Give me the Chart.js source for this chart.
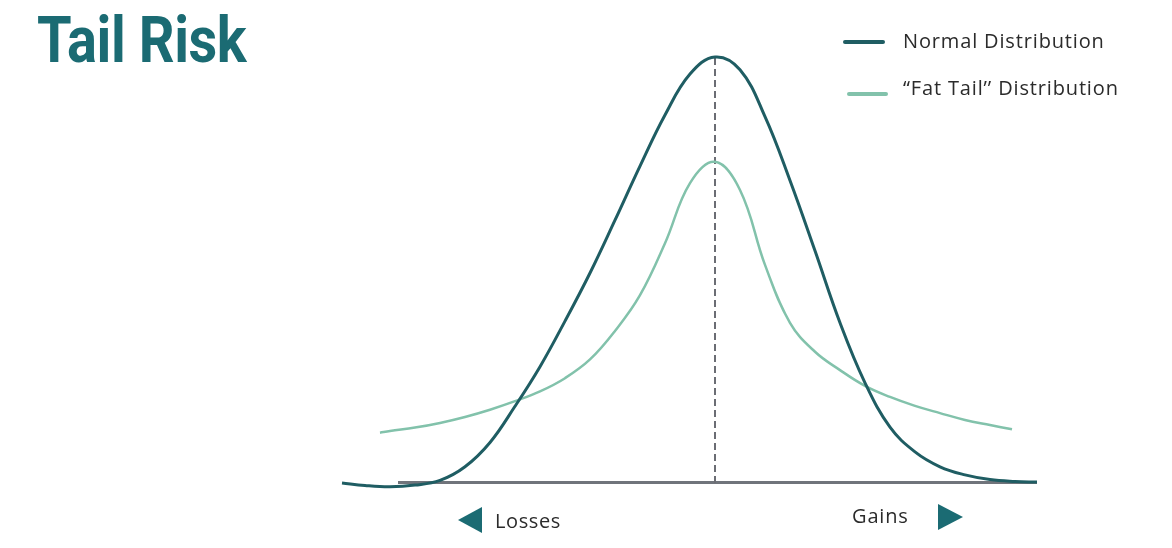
<!DOCTYPE html>
<html>
<head>
<meta charset="utf-8">
<script src="https://cdn.jsdelivr.net/npm/chart.js@4.4.1/dist/chart.umd.min.js"></script>
<style>
  html, body { margin: 0; padding: 0; background: #ffffff; }
  #wrap { position: relative; width: 1172px; height: 548px; overflow: hidden; }
  #c { position: absolute; left: 0; top: 0; }
  .title { position: absolute; left: 37px; top: 2px; font-family: Roboto, "Liberation Sans", sans-serif; font-weight: 700; font-size: 65px; color: #1b6b73; transform: scaleX(0.86); transform-origin: 0 0; white-space: nowrap; letter-spacing: -0.5px; }
  .leg, .lbl { position: absolute; font-family: "Open Sans", "Noto Sans", sans-serif; font-size: 20px; letter-spacing: 0.85px; color: #2b2b2b; white-space: nowrap; line-height: 1; }
  .sw { position: absolute; height: 4px; border-radius: 2px; }
  .tri { position: absolute; width: 0; height: 0; }
</style>
</head>
<body>
<div id="wrap">
  <canvas id="c" width="1172" height="548"></canvas>
  <div class="title">Tail Risk</div>
  <div class="sw" style="left:843px; top:40px; width:42px; background:#1f5d63;"></div>
  <div class="leg" style="left:903px; top:31px;">Normal Distribution</div>
  <div class="sw" style="left:847px; top:92px; width:41px; background:#82c2ab;"></div>
  <div class="leg" style="left:903px; top:78px;">“Fat Tail’’ Distribution</div>
  <div class="tri" style="left:458px; top:507px; border-top:13px solid transparent; border-bottom:13px solid transparent; border-right:24px solid #1b6b73;"></div>
  <div class="lbl" style="left:495px; top:511px; letter-spacing:0.6px;">Losses</div>
  <div class="lbl" style="left:852px; top:506px;">Gains</div>
  <div class="tri" style="left:938px; top:504px; border-top:13px solid transparent; border-bottom:13px solid transparent; border-left:25px solid #1b6b73;"></div>
</div>
<script>
// Values (x: distance from the mean, y: relative density; normal peak = 100)
const normalX = [-3.73, -3.50, -3.25, -3.00, -2.75, -2.50, -2.25, -2.00, -1.75, -1.50, -1.25, -1.00, -0.75, -0.50, -0.25, 0.00, 0.25, 0.50, 0.75, 1.00, 1.25, 1.50, 1.75, 2.00, 2.25, 2.50, 2.75, 3.00, 3.22];
const normalY = [0.0, -0.6, -0.9, -0.5, 0.6, 3.8, 9.5, 18.0, 27.3, 38.0, 49.3, 61.7, 74.4, 86.4, 96.0, 100.0, 97.0, 86.0, 71.0, 54.5, 37.6, 23.5, 13.1, 7.3, 3.8, 1.9, 0.8, 0.35, 0.2];

const fatX = [-3.35, -3.25, -3.00, -2.75, -2.50, -2.25, -2.00, -1.75, -1.50, -1.25, -1.00, -0.75, -0.50, -0.25, 0.00, 0.25, 0.50, 0.75, 1.00, 1.25, 1.50, 1.75, 2.00, 2.25, 2.50, 2.75, 2.97];
const fatY = [11.8, 12.2, 13.0, 14.1, 15.5, 17.2, 19.2, 21.5, 24.6, 29.0, 35.7, 44.1, 56.3, 70.4, 75.4, 68.8, 51.2, 37.6, 30.8, 26.5, 22.8, 20.2, 18.1, 16.4, 14.8, 13.6, 12.6];

const baselineX = [-3.17, 3.22];
const baselineY = [0.1, 0.1];
const meanX = [0, 0];
const meanY = [0, 100];

const xMin = -3.73, xMax = 3.22, yMin = -4, yMax = 104;

const pts = (xs, ys) => xs.map((x, i) => ({ x, y: ys[i] }));

new Chart(document.getElementById('c'), {
  type: 'line',
  data: {
    datasets: [
      { label: 'baseline', data: pts(baselineX, baselineY), borderColor: '#70747b', borderWidth: 3, pointRadius: 0, clip: false, order: 4 },
      { label: 'mean', data: pts(meanX, meanY), borderColor: '#6b6d74', borderWidth: 2, borderDash: [7, 4], pointRadius: 0, clip: false, order: 3 },
      { label: '“Fat Tail’’ Distribution', data: pts(fatX, fatY), borderColor: '#82c2ab', borderWidth: 2.5, pointRadius: 0, tension: 0.4, clip: false, order: 2 },
      { label: 'Normal Distribution', data: pts(normalX, normalY), borderColor: '#1f5d63', borderWidth: 3, pointRadius: 0, tension: 0.4, clip: false, order: 1 }
    ]
  },
  options: {
    responsive: false,
    animation: false,
    devicePixelRatio: 1,
    layout: { padding: { left: 342, right: 135, top: 40, bottom: 48 } },
    plugins: { legend: { display: false }, tooltip: { enabled: false }, title: { display: false } },
    scales: {
      x: { type: 'linear', min: xMin, max: xMax, display: false },
      y: { type: 'linear', min: yMin, max: yMax, display: false }
    }
  }
});
</script>
</body>
</html>
